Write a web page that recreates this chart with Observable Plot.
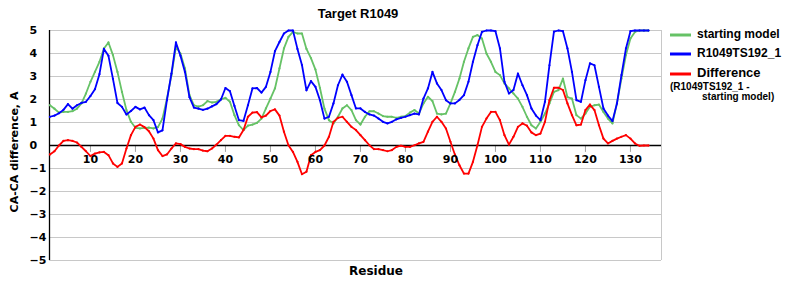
<!DOCTYPE html>
<html>
<head>
<meta charset="utf-8">
<script src="https://cdn.jsdelivr.net/npm/d3@7"></script>
<script src="https://cdn.jsdelivr.net/npm/@observablehq/plot@0.6"></script>
<style>
  html, body { margin: 0; padding: 0; background: #fff; }
  #chart { width: 800px; height: 300px; }
</style>
</head>
<body>
<div id="chart"></div>
<script>
const title = "Target R1049";
const seriesNames = ["starting model", "R1049TS192_1", "Difference"];
const diffNote = ["(R1049TS192_1 -", "starting model)"];
const seriesColors = ["#66c266", "#0000ff", "#ff0000"];
const xTicks = [10, 20, 30, 40, 50, 60, 70, 80, 90, 100, 110, 120, 130];
const yTicks = [-5, -4, -3, -2, -1, 0, 1, 2, 3, 4, 5];

const starting = [
  1.75,1.6,1.43,1.46,1.46,1.49,1.6,1.83,2.26,2.77,
  3.2,3.64,4.22,4.48,3.93,3.2,2.33,1.54,1.03,0.77,
  0.74,0.77,0.78,0.74,0.8,1.17,2.04,3.06,4.29,4.0,
  3.35,2.19,1.75,1.69,1.75,1.93,1.87,1.9,2.01,2.07,
  1.9,1.32,0.88,0.67,0.86,0.91,0.98,1.17,1.61,2.04,
  2.48,3.35,4.22,4.72,4.94,4.87,4.87,4.2,3.8,3.3,
  2.5,1.6,1.1,0.96,1.25,1.61,1.75,1.54,1.1,0.91,
  1.25,1.49,1.49,1.39,1.28,1.25,1.25,1.2,1.25,1.28,
  1.43,1.54,1.39,1.83,2.12,1.93,1.39,1.35,1.39,1.83,
  2.33,2.91,3.64,4.22,4.72,4.8,4.65,4.0,3.64,3.2,
  3.06,2.7,2.48,2.26,2.04,1.68,1.25,0.88,0.74,1.03,
  1.39,1.83,2.33,2.41,2.91,2.1,2.04,1.32,1.17,1.39,
  1.68,1.75,1.78,1.46,1.17,0.96,1.83,2.91,3.93,4.65,
  4.94,5.0,5.0,5.0
];
const model = [
  1.25,1.3,1.4,1.55,1.8,1.6,1.75,1.85,1.9,2.15,
  2.45,3.1,4.2,3.9,2.9,1.85,1.68,1.35,1.5,1.68,
  1.57,1.65,1.32,1.1,0.57,0.66,1.97,3.13,4.48,3.9,
  3.2,2.1,1.65,1.6,1.55,1.6,1.7,1.8,2.0,2.5,
  2.36,1.72,1.1,1.07,1.75,2.48,2.5,2.3,2.55,3.2,
  4.1,4.5,4.87,5.0,5.0,4.2,3.5,2.4,2.8,2.55,
  1.97,1.17,1.25,1.83,2.62,3.08,2.77,2.19,1.61,1.61,
  1.46,1.35,1.3,1.17,1.03,0.96,1.03,1.14,1.2,1.25,
  1.32,1.39,1.35,2.04,2.48,3.2,2.7,2.41,1.97,1.83,
  1.83,1.98,2.19,2.77,3.64,4.36,4.94,5.0,5.0,4.97,
  4.22,2.77,2.26,2.41,3.13,2.62,2.19,1.61,1.3,1.1,
  1.9,3.49,4.95,5.0,4.97,4.22,3.2,1.97,1.9,2.84,
  3.57,3.49,2.55,1.61,1.3,1.06,1.83,3.06,4.22,4.97,
  5.0,5.0,5.0,5.0
];
const difference = [
  -0.39,-0.25,0.0,0.2,0.23,0.2,0.13,-0.06,-0.25,-0.46,
  -0.35,-0.3,-0.28,-0.42,-0.78,-0.93,-0.78,-0.13,0.45,0.81,
  0.91,0.8,0.62,0.3,-0.2,-0.46,-0.39,-0.13,0.09,0.06,
  -0.06,-0.13,-0.16,-0.16,-0.22,-0.25,-0.13,0.04,0.23,0.42,
  0.42,0.38,0.35,0.67,1.25,1.43,1.45,1.22,1.3,1.5,
  1.57,1.3,0.6,0.01,-0.28,-0.71,-1.25,-1.14,-0.42,-0.28,
  -0.2,0.0,0.38,1.03,1.2,1.25,1.03,0.81,0.67,0.45,
  0.23,0.01,-0.16,-0.16,-0.2,-0.25,-0.2,-0.06,-0.01,-0.06,
  -0.06,0.01,0.09,0.16,0.6,1.03,1.25,1.03,0.74,0.16,
  -0.4,-0.86,-1.22,-1.22,-0.71,0.01,0.81,1.17,1.46,1.46,
  1.1,0.45,0.04,0.38,0.81,0.96,0.86,0.57,0.45,0.52,
  1.03,1.97,2.51,2.51,2.41,1.83,1.32,0.88,0.91,1.54,
  1.78,1.54,0.88,0.3,0.09,0.2,0.3,0.38,0.45,0.3,
  0.09,-0.01,0.0,0.0
];
const residues = d3.range(1, starting.length + 1);

const rows = (vals) => vals.map((v, i) => ({residue: residues[i], value: v}));
const sData = rows(starting), mData = rows(model), dData = rows(difference);

const xMin = 0.9, xMax = 136.9;

const chart = Plot.plot({
  width: 800,
  height: 300,
  marginLeft: 49,
  marginRight: 139,
  marginTop: 30,
  marginBottom: 40,
  x: {domain: [xMin, xMax], axis: null},
  y: {domain: [-5, 5], axis: null},
  style: {background: "#fff", overflow: "visible"},
  marks: [
    Plot.ruleY(yTicks, {stroke: "#c8c8c8", strokeWidth: 1}),
    Plot.ruleX([xMax], {stroke: "#c8c8c8", strokeWidth: 1}),
    Plot.ruleX(xTicks, {y1: 0, y2: -0.3, stroke: "#a0a0a0", strokeWidth: 1}),
    Plot.ruleY([0], {stroke: "#000", strokeWidth: 1.3}),
    Plot.ruleX([xMin], {stroke: "#000", strokeWidth: 1.3}),
    Plot.line(sData, {x: "residue", y: "value", stroke: seriesColors[0], strokeWidth: 1.8}),
    Plot.dot(sData, {x: "residue", y: "value", fill: seriesColors[0], r: 1.1}),
    Plot.line(mData, {x: "residue", y: "value", stroke: seriesColors[1], strokeWidth: 1.8}),
    Plot.dot(mData, {x: "residue", y: "value", fill: seriesColors[1], r: 1.1}),
    Plot.line(dData, {x: "residue", y: "value", stroke: seriesColors[2], strokeWidth: 1.8}),
    Plot.dot(dData, {x: "residue", y: "value", fill: seriesColors[2], r: 1.1}),
    Plot.text(xTicks, {x: d => d, y: 0, dy: 14, text: d => String(d), fill: "#000",
      fontWeight: "bold", fontSize: 11, fontFamily: "DejaVu Sans"}),
    Plot.text(yTicks, {x: xMin, y: d => d, dx: -20, textAnchor: "start",
      text: d => (d < 0 ? "\u2212" + Math.abs(d) : String(d)), fill: "#000",
      fontWeight: "bold", fontSize: 11, fontFamily: "DejaVu Sans"})
  ]
});

const svg = d3.select(chart);
// Title
svg.append("text").attr("x", 358).attr("y", 15).attr("text-anchor", "middle")
  .attr("dominant-baseline", "middle")
  .style("font", "bold 13px 'Liberation Sans', Arial, sans-serif").text(title);
// Axis titles
svg.append("text").attr("x", 376).attr("y", 271).attr("text-anchor", "middle")
  .attr("dominant-baseline", "middle")
  .style("font", "bold 12px 'DejaVu Sans'").text("Residue");
svg.append("text").attr("transform", "translate(15,152) rotate(-90)")
  .attr("text-anchor", "middle").attr("dominant-baseline", "middle")
  .style("font", "bold 11px 'DejaVu Sans'").text("CA-CA difference, A");
// Legend
const legY = [35, 54, 74];
seriesNames.forEach((name, i) => {
  svg.append("line").attr("x1", 670).attr("x2", 691).attr("y1", legY[i]).attr("y2", legY[i])
    .attr("stroke", seriesColors[i]).attr("stroke-width", 3);
  svg.append("text").attr("x", 697).attr("y", legY[i]).attr("dominant-baseline", "middle")
    .attr("text-anchor", "start")
    .style("font", (i === 2 ? "bold 13px" : "bold 12px") + " 'Liberation Sans', Arial, sans-serif")
    .text(name);
});
svg.append("text").attr("x", 670).attr("y", 87).attr("dominant-baseline", "middle")
  .attr("text-anchor", "start")
  .style("font", "bold 10px 'Liberation Sans', Arial, sans-serif").text(diffNote[0]);
svg.append("text").attr("x", 702).attr("y", 97).attr("dominant-baseline", "middle")
  .attr("text-anchor", "start")
  .style("font", "bold 10px 'Liberation Sans', Arial, sans-serif").text(diffNote[1]);

document.getElementById("chart").appendChild(chart);
</script>
</body>
</html>
